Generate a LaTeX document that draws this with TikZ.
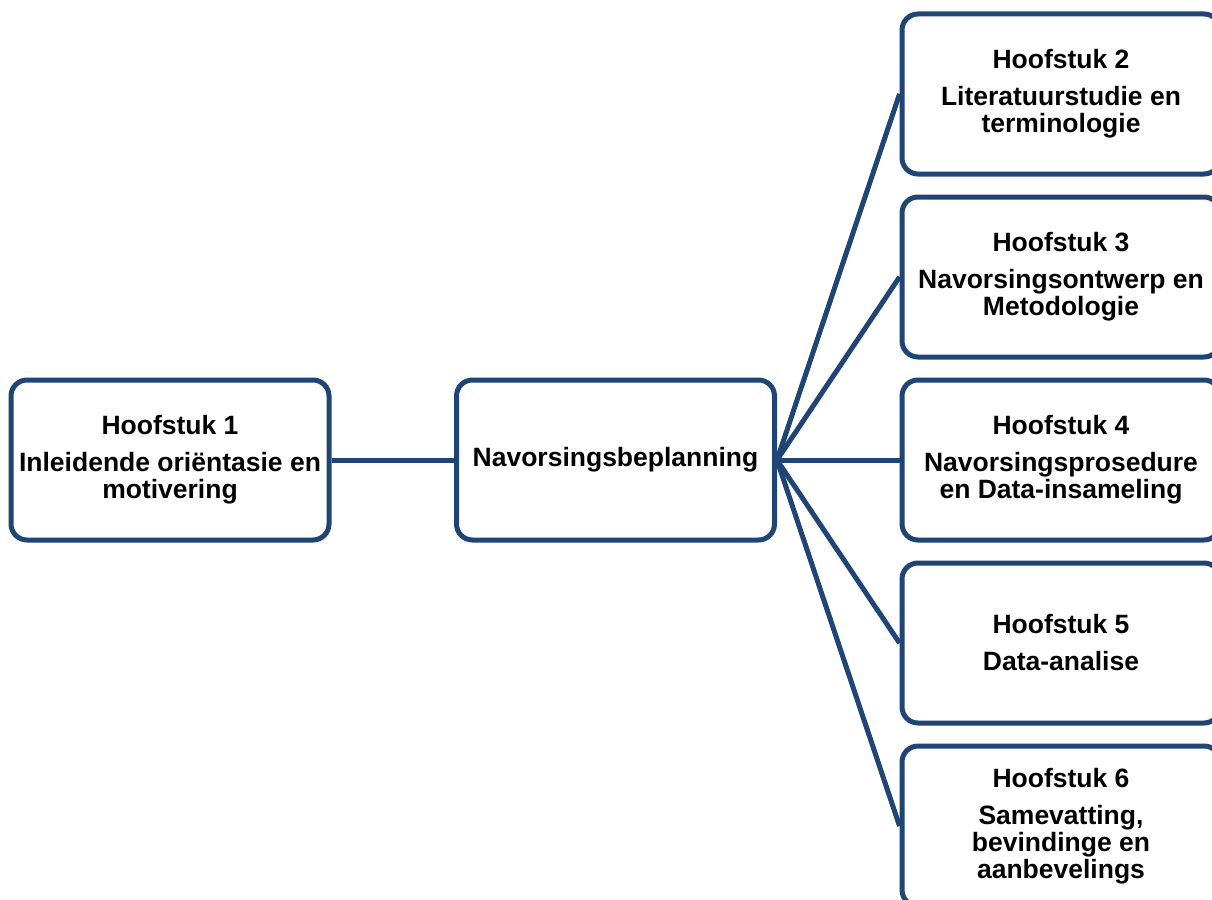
\documentclass[tikz,border=0pt]{standalone}
\usepackage{fontspec}
\setmainfont{Liberation Sans}
\definecolor{chapblue}{RGB}{31,68,118}
\begin{document}
\begin{tikzpicture}[x=1pt,y=-1pt,
  chapbox/.style={draw=chapblue, line width=5pt, rounded corners=16pt, fill=white,
    minimum width=318pt, minimum height=160pt, inner sep=0pt,
    align=center, font=\bfseries\fontsize{26.5}{27}\selectfont},
  link/.style={draw=chapblue, line width=5pt}]
\useasboundingbox (0,0) rectangle (1212,899);
\clip (0,0) rectangle (1212,899);
% chapter boxes
\node[chapbox] (h1) at (170,460) {Hoofstuk 1\\[10pt]Inleidende oriëntasie en\\motivering};
\node[chapbox] (plan) at (615.5,460) {Navorsingsbeplanning};
\node[chapbox] (h2) at (1061,94) {Hoofstuk 2\\[10pt]Literatuurstudie en\\terminologie};
\node[chapbox] (h3) at (1061,277) {Hoofstuk 3\\[10pt]Navorsingsontwerp en\\Metodologie};
\node[chapbox] (h4) at (1061,460) {Hoofstuk 4\\[10pt]Navorsingsprosedure\\en Data-insameling};
\node[chapbox] (h5) at (1061,643) {Hoofstuk 5\\[10pt]Data-analise};
\node[chapbox] (h6) at (1061,826) {Hoofstuk 6\\[10pt]Samevatting,\\bevindinge en\\aanbevelings};
% connectors
\draw[link] (h1.east) -- (plan.west);
\foreach \n in {h2,h3,h4,h5,h6}
  \draw[link] (plan.east) -- (\n.west);
\end{tikzpicture}
\end{document}
